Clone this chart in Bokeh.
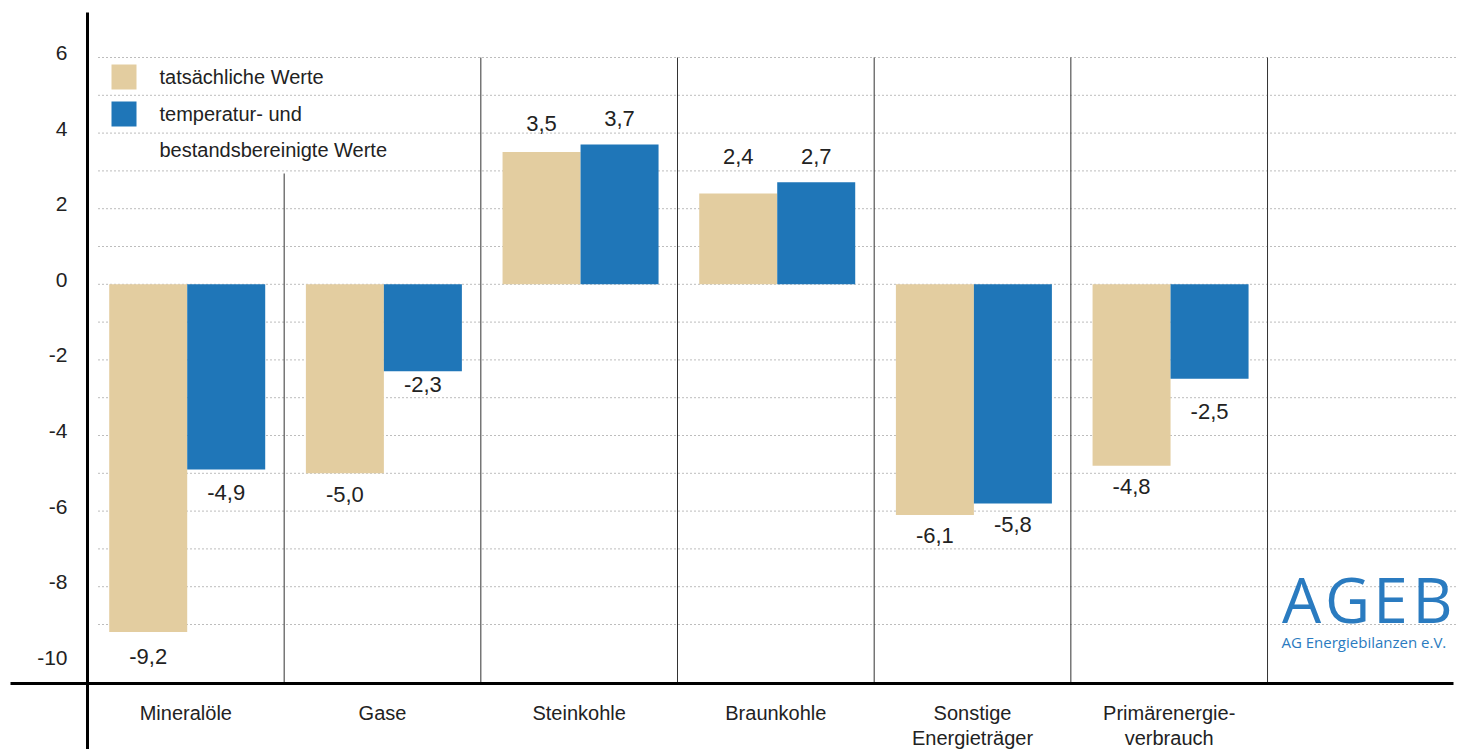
from bokeh.plotting import figure
from bokeh.models import Range1d
from bokeh.core.properties import value
from bokeh.embed import file_html
from bokeh.resources import INLINE

# ---- data ----
categories = ["Mineralöle", "Gase", "Steinkohle", "Braunkohle",
              "Sonstige\nEnergieträger", "Primärenergie-\nverbrauch"]
actual = [-9.2, -5.0, 3.5, 2.4, -6.1, -4.8]          # tatsächliche Werte
adjusted = [-4.9, -2.3, 3.7, 2.7, -5.8, -2.5]        # temperatur- und bestandsbereinigte Werte
y_ticks = [6, 4, 2, 0, -2, -4, -6, -8, -10]
grid_vals = list(range(-9, 7))
legend_labels = ["tatsächliche Werte", "temperatur- und", "bestandsbereinigte Werte"]

# ---- styles / layout ----
W, H = 1461, 749
X0, XU = 87.0, 196.67     # pixel of x=0, pixels per category slot
Y0, YU = 283.8, 37.8      # pixel of y=0, pixels per unit

def dx(px):
    return (px - X0) / XU

def dy(py):
    return (Y0 - py) / YU

BEIGE = "#E3CDA0"
BLUE = "#1F76B8"
LOGO = "#2A7BC0"
TXT = "#222222"
FONT = value("Liberation Sans")

# label offsets (data units) relative to bar end
actual_off = [-0.65, -0.56, 0.75, 0.98, -0.54, -0.55]
adjusted_off = [-0.61, -0.35, 0.69, 0.68, -0.56, -0.87]

p = figure(width=W, height=H, output_backend="svg", toolbar_location=None,
           x_range=Range1d(dx(0), dx(W)), y_range=Range1d(dy(H), dy(0)),
           x_axis_type=None, y_axis_type=None, min_border=0,
           outline_line_color=None, background_fill_color="white",
           border_fill_color="white")
p.xgrid.visible = False
p.ygrid.visible = False

# dotted grid lines
p.segment(x0=[dx(98)] * len(grid_vals), x1=[dx(1455)] * len(grid_vals),
          y0=grid_vals, y1=grid_vals, line_color="#7a7a7a", line_width=1,
          line_dash="1 3")

# category separators
n = len(categories)
sep_x = list(range(1, n + 1))
sep_top = [dy(173)] + [6] * (n - 1)
p.segment(x0=sep_x, x1=sep_x, y0=[dy(683)] * n, y1=sep_top,
          line_color="#333333", line_width=1)

# bars
centre = 0.507
bw = 0.3966
xa = [i + centre - bw / 2 for i in range(n)]
xb = [i + centre + bw / 2 for i in range(n)]
p.vbar(x=xa, top=actual, bottom=0, width=bw, fill_color=BEIGE, line_color=None)
p.vbar(x=xb, top=adjusted, bottom=0, width=bw, fill_color=BLUE, line_color=None)

# value labels
def fmt(v):
    return f"{v:.1f}".replace(".", ",")

lab_x = xa + xb
lab_y = [v + o for v, o in zip(actual, actual_off)] + [v + o for v, o in zip(adjusted, adjusted_off)]
lab_t = [fmt(v) for v in actual] + [fmt(v) for v in adjusted]
p.text(x=lab_x, y=lab_y, text=lab_t, text_align="center", text_baseline="middle",
       text_font=FONT, text_font_size="22px", text_color=TXT)

# axes lines
p.segment(x0=[0], x1=[0], y0=[dy(12)], y1=[dy(H)], line_color="black", line_width=3)
p.segment(x0=[dx(10)], x1=[dx(1453)], y0=[dy(683)], y1=[dy(683)],
          line_color="black", line_width=3)

# y tick labels
p.text(x=[dx(67)] * len(y_ticks), y=[t + 4.5 / YU for t in y_ticks],
       text=[str(t) for t in y_ticks], text_align="right", text_baseline="middle",
       text_font=FONT, text_font_size="21px", text_color=TXT)

# category labels
cx, cy, ct = [], [], []
for i, c in enumerate(categories):
    for j, line in enumerate(c.split("\n")):
        cx.append(i + 0.5)
        cy.append(dy(712 + 25 * j))
        ct.append(line)
p.text(x=cx, y=cy, text=ct, text_align="center", text_baseline="middle",
       text_font=FONT, text_font_size="20px", text_color=TXT)

# legend
p.rect(x=[dx(123.5)] * 2, y=[dy(76.5), dy(113.5)], width=25, height=25,
       width_units="screen", height_units="screen",
       fill_color=[BEIGE, BLUE], line_color=None)
p.text(x=[dx(159)] * 3, y=[dy(76), dy(113), dy(149)], text=legend_labels,
       text_align="left", text_baseline="middle",
       text_font=FONT, text_font_size="20px", text_color=TXT)

# logo
logo_letters = ["A", "G", "E", "B"]
logo_px = [1301, 1347, 1390, 1432]
p.text(x=[dx(v) for v in logo_px], y=[dy(598)] * 4, text=logo_letters,
       text_align="center", text_baseline="middle",
       text_font=value("Open Sans"), text_font_size="62px", text_color=LOGO)
p.text(x=[dx(1281)], y=[dy(641)], text=["AG Energiebilanzen e.V."],
       text_align="left", text_baseline="middle",
       text_font=value("Open Sans"), text_font_size="15px", text_color=LOGO)

open("out.html", "w").write(file_html(p, INLINE))
